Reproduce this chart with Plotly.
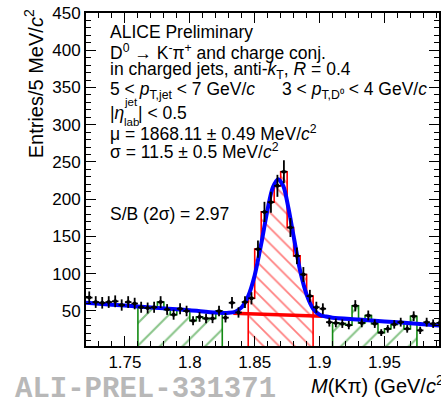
import math
import plotly.graph_objects as go

# ---------------- data ----------------
mass_lo = 1.72          # GeV/c^2, first bin low edge
bin_w = 0.005           # 5 MeV bins
counts = [68, 62, 61, 62, 63, 58, 62, 60, 55, 54,
          55, 62, 52, 45, 53, 50, 37, 42, 40, 40,
          50, 41, 61, 48, 62, 67, 133, 183, 196, 218,
          237, 162, 124, 99, 70, 55, 53, 35, 34, 33,
          31, 57, 34, 44, 33, 21, 26, 32, 35, 26,
          43, 24, 35, 33, 34, 32]
bin_centers = [round(mass_lo + bin_w * (i + 0.5), 4) for i in range(len(counts))]

sideband_left = (1.760, 1.825)
signal_region = (1.845, 1.895)
sideband_right = (1.910, 1.975)

# total fit curve
fit_x = [1.720, 1.740, 1.760, 1.780, 1.800, 1.820, 1.830, 1.835, 1.840, 1.845,
         1.850, 1.855, 1.860, 1.864, 1.868, 1.872, 1.876, 1.880, 1.885, 1.890,
         1.895, 1.900, 1.905, 1.910, 1.930, 1.950, 1.970, 1.992]
fit_y = [61, 58.5, 56, 53.5, 51, 48, 47.5, 49, 55, 70,
         98, 140, 187, 216, 227, 218, 188, 150, 104, 72,
         53, 45, 42.5, 41, 38.5, 36, 33.5, 30.5]

# background under the peak (red line)
bkg_x = [1.8335, 1.868, 1.9025]
bkg_y = [47, 45, 43]

x_tick_vals = [1.75, 1.80, 1.85, 1.90, 1.95]
x_tick_text = ["1.75", "1.8", "1.85", "1.9", "1.95"]
y_tick_vals = [50, 100, 150, 200, 250, 300, 350, 400, 450]
y_tick_text = ["50", "100", "150", "200", "250", "300", "350", "400", "450"]

# ---------------- figure ----------------
GREEN = "#138a13"
RED = "#ff0000"
BLUE = "#0000ff"
FONT = "Liberation Sans, Arial, Helvetica, sans-serif"

L, R, T, B = 86, 0, 13, 55
W, H = 441, 401
PW, PH = W - L - R, H - T - B


def P(px, py):
    return (px - L) / PW, (H - B - py) / PH


def region_trace(lo, hi, color, shape, size, sol):
    sel = [(c, v) for c, v in zip(bin_centers, counts) if lo < c < hi]
    xs = [lo] + [c - bin_w / 2 for c, _ in sel] + [hi, hi]
    ys = [0] + [v for _, v in sel] + [sel[-1][1], 0]
    return go.Scatter(
        x=xs, y=ys, mode="lines", line=dict(color=color, width=1.6, shape="hv"),
        fill="tozeroy", fillcolor="rgba(0,0,0,0)",
        fillpattern=dict(shape=shape, fgcolor=color, bgcolor="rgba(0,0,0,0)",
                         size=size, solidity=sol, fillmode="overlay"),
        hoverinfo="skip")


fig = go.Figure()
fig.add_trace(region_trace(*sideband_left, GREEN, "/", 16, 0.13))
fig.add_trace(region_trace(*sideband_right, GREEN, "/", 16, 0.13))
fig.add_trace(region_trace(*signal_region, RED, "\\", 11, 0.16))

fig.add_trace(go.Scatter(x=bkg_x, y=bkg_y, mode="lines",
                         line=dict(color=RED, width=3.5), hoverinfo="skip"))
fig.add_trace(go.Scatter(x=fit_x, y=fit_y, mode="lines",
                         line=dict(color=BLUE, width=4, shape="spline", smoothing=0.8),
                         hoverinfo="skip"))
fig.add_trace(go.Scatter(
    x=bin_centers, y=counts, mode="markers",
    marker=dict(color="black", size=4, symbol="circle"),
    error_y=dict(type="data", array=[math.sqrt(v) for v in counts],
                 color="black", thickness=1.8, width=0),
    error_x=dict(type="constant", value=bin_w / 2, color="black",
                 thickness=1.8, width=0),
    hoverinfo="skip"))

axis_common = dict(showline=True, linecolor="black", linewidth=2, mirror="allticks",
                   ticks="inside", ticklen=10, tickwidth=1.3, tickcolor="black",
                   showgrid=False, zeroline=False,
                   tickfont=dict(family=FONT, size=17, color="black"))

fig.update_xaxes(range=[1.72, 1.992], tickvals=x_tick_vals, ticktext=x_tick_text,
                 minor=dict(dtick=0.01, tick0=1.72, ticks="inside", ticklen=5,
                            tickwidth=1.3, tickcolor="black", showgrid=False),
                 **axis_common)
fig.update_yaxes(range=[3, 450], tickvals=y_tick_vals, ticktext=y_tick_text,
                 minor=dict(dtick=10, tick0=0, ticks="inside", ticklen=5,
                            tickwidth=1.3, tickcolor="black", showgrid=False),
                 **axis_common)

ann = []


def text(px, py, s, size=17.5, anchor="left", **kw):
    x, y = P(px, py)
    d = dict(x=x, y=y, xref="paper", yref="paper", text=s, showarrow=False,
             xanchor=anchor, yanchor="middle",
             font=dict(family=FONT, size=size, color=kw.pop("color", "black")))
    d.update(kw)
    ann.append(d)


text(108, 32, "ALICE Preliminary")
text(108, 52, "D<sup>0</sup> → K<sup>-</sup>π<sup>+</sup> and charge conj.")
text(108, 71, "in charged jets, anti-<i>k</i><sub>T</sub>, <i>R</i> = 0.4")
text(108, 90, "5 &lt; <i>p</i><sub>T,jet</sub> &lt; 7 GeV/<i>c</i>")
text(281, 90, "3 &lt; <i>p</i><sub>T,D⁰</sub> &lt; 4 GeV/<i>c</i>")
text(108, 113, "|<i>η</i>")
text(122, 102, "jet", size=11.5)
text(122, 122, "lab", size=11.5)
text(136, 113, "| &lt; 0.5")
text(108, 133, "μ = 1868.11 ± 0.49 MeV/<i>c</i><sup>2</sup>")
text(108, 151, "σ = 11.5 ± 0.5 MeV/<i>c</i><sup>2</sup>")
text(108, 214, "S/B (2σ) = 2.97")

text(34, 84, "Entries/5 MeV/<i>c</i><sup>2</sup>", size=20, anchor="center", textangle=-90)
text(310, 384, "<i>M</i>(Kπ) (GeV/<i>c</i><sup>2</sup>)", size=20)
ann.append(dict(x=P(13, 0)[0], y=P(0, 390)[1], xref="paper", yref="paper",
                text="<b>ALI-PREL-331371</b>", showarrow=False, xanchor="left",
                yanchor="middle",
                font=dict(family="Liberation Mono, Courier New, monospace",
                          size=29, color="#b8b8b8")))

fig.update_layout(width=W, height=H, margin=dict(l=L, r=R, t=T, b=B),
                  plot_bgcolor="white", paper_bgcolor="white", showlegend=False,
                  annotations=ann)

fig.write_html("out.html")
